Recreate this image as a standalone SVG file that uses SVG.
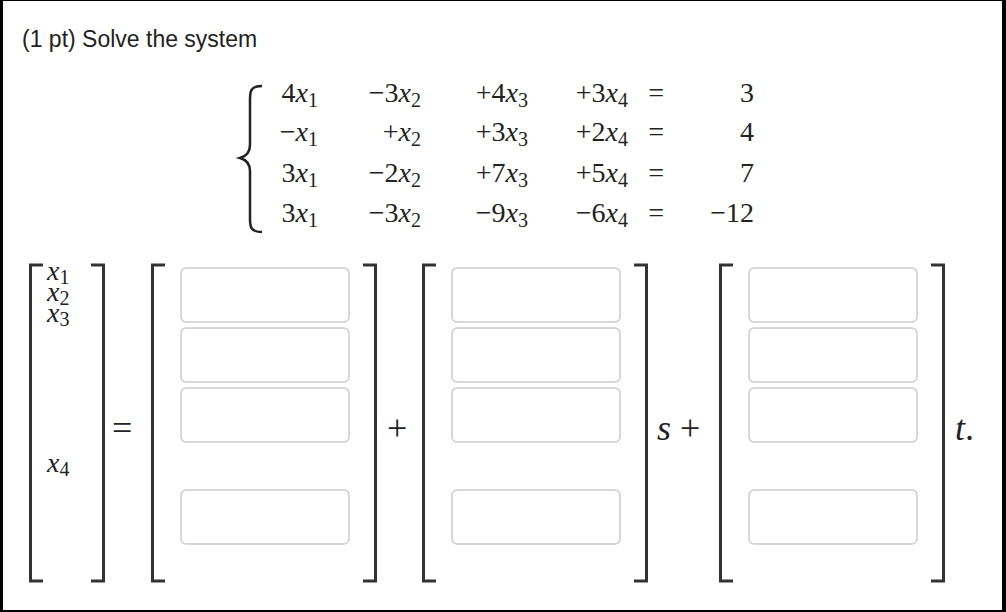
<svg xmlns="http://www.w3.org/2000/svg" width="1006" height="612" viewBox="0 0 1006 612">
<style>
.m{font-family:"Liberation Serif","Times New Roman",serif;font-size:28px;fill:#222}
.i{font-style:italic}
.s{font-size:20px;font-style:normal}
.op{font-family:"Liberation Serif","Times New Roman",serif;font-size:36px;fill:#222}
.b{fill:none;stroke:#333;stroke-width:3}
.box{fill:#fff;stroke:#ccc;stroke-width:1.5}
</style>
<rect x="0" y="0" width="1006" height="612" fill="#000"/>
<rect x="3" y="1" width="999" height="609" fill="#fff"/>
<text x="22" y="47" font-family="Liberation Sans,Arial,sans-serif" font-size="23" fill="#222">(1 pt) Solve the system</text>
<g id="system">
<path d="M262,86 C250,86 250,92 250,100 L250,145 C250,152 247,156 240,158 C247,160 250,164 250,171 L250,218 C250,226 250,232 262,232" fill="none" stroke="#222" stroke-width="2.5"/>
<g class="m" text-anchor="end">
<text x="318" y="102">4<tspan class="i">x</tspan><tspan class="s" dy="5">1</tspan></text>
<text x="421" y="102">−3<tspan class="i">x</tspan><tspan class="s" dy="5">2</tspan></text>
<text x="528" y="102">+4<tspan class="i">x</tspan><tspan class="s" dy="5">3</tspan></text>
<text x="628" y="102">+3<tspan class="i">x</tspan><tspan class="s" dy="5">4</tspan></text>
<text x="318" y="141">−<tspan class="i">x</tspan><tspan class="s" dy="5">1</tspan></text>
<text x="421" y="141">+<tspan class="i">x</tspan><tspan class="s" dy="5">2</tspan></text>
<text x="528" y="141">+3<tspan class="i">x</tspan><tspan class="s" dy="5">3</tspan></text>
<text x="628" y="141">+2<tspan class="i">x</tspan><tspan class="s" dy="5">4</tspan></text>
<text x="318" y="182">3<tspan class="i">x</tspan><tspan class="s" dy="5">1</tspan></text>
<text x="421" y="182">−2<tspan class="i">x</tspan><tspan class="s" dy="5">2</tspan></text>
<text x="528" y="182">+7<tspan class="i">x</tspan><tspan class="s" dy="5">3</tspan></text>
<text x="628" y="182">+5<tspan class="i">x</tspan><tspan class="s" dy="5">4</tspan></text>
<text x="318" y="222">3<tspan class="i">x</tspan><tspan class="s" dy="5">1</tspan></text>
<text x="421" y="222">−3<tspan class="i">x</tspan><tspan class="s" dy="5">2</tspan></text>
<text x="528" y="222">−9<tspan class="i">x</tspan><tspan class="s" dy="5">3</tspan></text>
<text x="628" y="222">−6<tspan class="i">x</tspan><tspan class="s" dy="5">4</tspan></text>
<text x="664" y="102">=</text><text x="664" y="141">=</text><text x="664" y="182">=</text><text x="664" y="222">=</text>
<text x="754" y="102">3</text><text x="754" y="141">4</text><text x="754" y="182">7</text><text x="754" y="222">−12</text>
</g>
</g>
<g id="xvec" class="m">
<path class="b" d="M43,265 H30.5 V581 H43 M91,265 H103.5 V581 H91"/>
<text x="47" y="280" class="i">x<tspan class="s" dy="4">1</tspan></text>
<text x="47" y="301" class="i">x<tspan class="s" dy="4">2</tspan></text>
<text x="47" y="322" class="i">x<tspan class="s" dy="4">3</tspan></text>
<text x="47" y="472" class="i">x<tspan class="s" dy="4">4</tspan></text>
</g>
<text class="op" x="112" y="440">=</text>
<g id="m1">
<path class="b" d="M165,265 H152.5 V581 H165 M363,265 H375.5 V581 H363"/>
<rect class="box" x="181" y="268" width="168" height="54" rx="5"/>
<rect class="box" x="181" y="328" width="168" height="54" rx="5"/>
<rect class="box" x="181" y="388" width="168" height="54" rx="5"/>
<rect class="box" x="181" y="490" width="168" height="54" rx="5"/>
</g>
<text class="op" x="387" y="440">+</text>
<g id="m2">
<path class="b" d="M436,265 H423.5 V581 H436 M634,265 H646.5 V581 H634"/>
<rect class="box" x="452" y="268" width="168" height="54" rx="5"/>
<rect class="box" x="452" y="328" width="168" height="54" rx="5"/>
<rect class="box" x="452" y="388" width="168" height="54" rx="5"/>
<rect class="box" x="452" y="490" width="168" height="54" rx="5"/>
</g>
<text class="op" x="657" y="440"><tspan class="i">s</tspan> +</text>
<g id="m3">
<path class="b" d="M733,265 H720.5 V581 H733 M931,265 H943.5 V581 H931"/>
<rect class="box" x="749" y="268" width="168" height="54" rx="5"/>
<rect class="box" x="749" y="328" width="168" height="54" rx="5"/>
<rect class="box" x="749" y="388" width="168" height="54" rx="5"/>
<rect class="box" x="749" y="490" width="168" height="54" rx="5"/>
</g>
<text class="op" x="955" y="440"><tspan class="i">t</tspan>.</text>
</svg>
